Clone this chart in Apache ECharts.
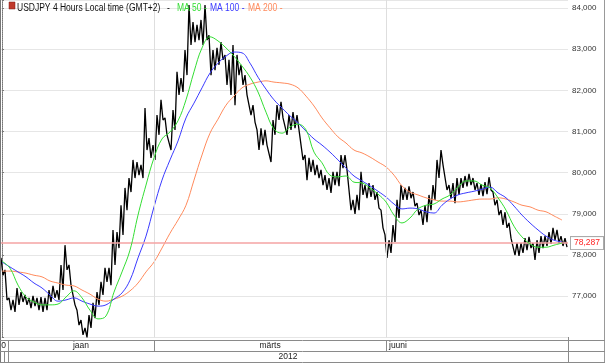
<!DOCTYPE html>
<html><head><meta charset="utf-8">
<script src="https://cdn.jsdelivr.net/npm/echarts@6/dist/echarts.min.js"></script>
<style>html,body{margin:0;padding:0;background:#fff}#c{width:605px;height:363px}</style>
</head><body><div id="c"></div>
<script>
// 4-hour bars, sampled (high / low)
const high = [77.93,77.64,76.96,76.91,77.20,77.10,77.03,76.96,77.01,76.96,
  76.98,76.96,77.15,77.25,77.15,77.76,78.24,77.76,77.27,76.66,
  76.42,76.23,76.54,76.84,77.10,77.35,77.69,77.69,78.61,78.56,
  79.21,79.63,79.87,80.31,80.26,80.19,81.57,80.84,80.67,81.40,
  81.77,81.33,80.92,81.52,82.45,82.30,82.98,84.07,83.66,83.59,
  83.71,84.07,83.34,82.98,83.03,83.17,82.86,82.74,83.10,82.86,
  82.62,82.37,81.89,81.64,81.04,81.08,81.04,80.67,81.28,81.64,
  81.72,81.33,81.40,81.47,81.40,81.04,80.43,80.36,80.31,80.19,
  80.07,79.94,79.87,80.02,80.02,80.43,80.43,79.58,79.34,79.46,
  80.02,79.70,79.75,79.70,79.53,79.09,78.49,78.36,78.73,79.34,
  79.70,79.63,79.67,79.53,79.26,79.09,79.21,79.46,79.70,80.31,
  80.55,80.19,79.70,79.75,79.87,79.87,79.92,79.97,79.87,79.75,
  79.72,79.77,79.89,79.53,79.34,79.09,79.04,78.78,78.41,78.29,
  78.29,78.41,78.44,78.29,78.36,78.46,78.46,78.56,78.66,78.61,
  78.46,78.41];
const low = [77.51,76.91,76.66,76.62,76.79,76.86,76.79,76.71,76.76,76.66,
  76.62,76.66,76.86,76.96,76.91,77.15,77.64,77.27,76.79,76.30,
  76.06,76.00,76.23,76.47,76.79,77.03,77.35,77.27,77.76,78.17,
  78.49,79.09,79.53,79.87,79.94,79.87,80.55,80.36,80.31,80.92,
  81.28,80.92,80.55,81.04,81.89,81.96,82.37,83.10,83.17,83.22,
  83.10,83.22,82.37,82.49,82.62,82.74,82.13,81.89,81.64,82.37,
  82.13,81.89,81.40,81.23,80.55,80.67,80.67,80.26,80.92,81.28,
  81.33,80.92,81.04,81.08,81.04,80.31,79.82,80.02,79.94,79.87,
  79.70,79.58,79.51,79.70,79.67,80.11,80.07,79.09,79.00,79.09,
  79.46,79.38,79.41,79.34,79.14,78.66,77.93,78.05,78.32,78.90,
  79.34,79.34,79.38,79.19,78.97,78.73,78.80,79.09,79.34,79.87,
  80.19,79.58,79.38,79.26,79.46,79.63,79.67,79.70,79.58,79.46,
  79.43,79.48,79.58,79.21,78.97,78.73,78.66,78.41,78.00,77.98,
  78.05,78.12,78.17,77.88,78.05,78.17,78.22,78.27,78.36,78.29,
  78.22,78.19];
// moving averages, one value every 2nd bar
const ma50 = [77.85,77.68,77.27,76.98,76.86,76.79,76.79,76.81,76.98,77.13,
  76.96,76.66,76.45,76.52,77.10,77.59,78.12,78.97,79.70,80.36,
  80.82,80.99,81.26,81.77,82.45,83.03,83.30,83.20,83.03,82.83,
  82.59,82.32,81.96,81.47,81.06,80.96,81.11,81.18,81.04,80.50,
  80.24,79.94,79.90,79.92,79.77,79.75,79.63,79.48,79.29,78.97,
  78.78,78.90,79.12,79.21,79.24,79.36,79.46,79.65,79.80,79.80,
  79.70,79.63,79.39,79.09,78.70,78.44,78.27,78.19,78.19,78.24,
  78.29];
const ma100 = [77.83,77.71,77.59,77.47,77.32,77.20,77.03,76.88,76.91,76.96,
  76.88,76.81,76.76,76.79,76.93,77.08,77.39,77.93,78.46,79.17,
  79.82,80.31,80.77,81.33,81.69,82.06,82.42,82.66,82.83,82.93,
  82.91,82.66,82.32,82.03,81.77,81.57,81.38,81.21,81.01,80.82,
  80.67,80.50,80.31,80.11,79.92,79.80,79.68,79.55,79.41,79.24,
  79.12,79.14,79.12,79.05,79.02,79.21,79.36,79.46,79.51,79.55,
  79.60,79.65,79.51,79.39,79.19,78.97,78.78,78.61,78.46,78.36,
  78.32];
const ma200 = [77.61,77.61,77.59,77.56,77.51,77.47,77.37,77.32,77.27,77.25,
  77.15,77.05,76.93,76.88,76.93,77.00,77.13,77.32,77.59,77.83,
  78.17,78.53,78.85,79.21,79.82,80.43,80.96,81.30,81.64,81.86,
  82.06,82.15,82.20,82.23,82.20,82.18,82.15,82.06,81.86,81.62,
  81.33,81.09,80.87,80.72,80.55,80.48,80.38,80.26,80.14,79.94,
  79.68,79.53,79.46,79.39,79.34,79.31,79.31,79.29,79.31,79.34,
  79.36,79.36,79.39,79.36,79.29,79.21,79.17,79.09,79.05,78.95,
  78.85];
const lastPrice = 78.287;
const monthLabels = ['0', 'jaan', 'märts', 'juuni'];
const monthStartBar = [38, 96];
const yearLabel = '2012';
const titleText = 'USDJPY 4 Hours Local time (GMT+2)';
const maNames = ['MA 50', 'MA 100', 'MA 200'];
const yTicks = [77, 78, 79, 80, 81, 82, 83, 84];

const C50 = '#33dd33', C100 = '#3a3aff', C200 = '#ff8a5c';
const fmt = v => v.toFixed(3).replace('.', ',');
const chart = echarts.init(document.getElementById('c'), null, {renderer: 'canvas'});
const FONT = 'Liberation Sans';
const maData = arr => arr.map((v, k) => [2 * k, v]);
// each bar is traced from its high to its low
const priceTrace = [];
high.forEach((h, i) => { priceTrace.push([i - 0.25, h]); priceTrace.push([i + 0.25, low[i]]); });
const hl = (x1, y1, x2, y2, c) => ({type: 'line', silent: true, z: 50,
  shape: {x1, y1, x2, y2}, style: {stroke: c || '#8a8a8a', lineWidth: 1}});
const txt = (x, y, t, opt, sx) => Object.assign({type: 'text', z: 51, x, y, scaleX: sx || 1,
  style: Object.assign({text: t, font: '8.5px ' + FONT, fill: '#222', textVerticalAlign: 'middle'}, opt || {})});

chart.setOption({
  animation: false,
  grid: {left: 0, right: 37, top: 0, bottom: 25.6},
  xAxis: {type: 'value', min: -0.5, max: high.length - 0.5,
    axisLine: {show: false}, axisTick: {show: false}, axisLabel: {show: false}, splitLine: {show: false}},
  yAxis: {type: 'value', position: 'right', min: 76, max: 84.194, interval: 1,
    axisLine: {show: true, lineStyle: {color: '#777', type: 'dotted'}},
    axisTick: {show: true, length: 2, lineStyle: {color: '#777'}},
    axisLabel: {margin: 4, color: '#333', fontSize: 8, fontFamily: FONT,
      formatter: v => yTicks.includes(Math.round(v * 1000) / 1000) ? fmt(v) : ''},
    splitLine: {show: true, lineStyle: {color: '#e6e6e6'}}},
  series: [
    {type: 'line', data: [], silent: true, z: 1,
      markLine: {silent: true, symbol: 'none', animation: false, data: [
        ...monthStartBar.map(b => ({xAxis: b, lineStyle: {color: '#dedede', width: 1, type: 'solid'}, label: {show: false}})),
        {yAxis: lastPrice, lineStyle: {color: '#f5a3a3', width: 1.5, type: 'solid'},
          label: {show: true, position: 'end', distance: 3, formatter: fmt(lastPrice), color: '#ff2222',
            fontSize: 8.5, fontFamily: FONT, backgroundColor: '#fff', borderColor: '#aaa', borderWidth: 1, padding: [2, 3, 1, 3]}}
      ]}},
    {type: 'line', z: 2, data: priceTrace, showSymbol: false, silent: true,
      lineStyle: {color: '#000', width: 1.3}},
    {type: 'line', z: 3, data: maData(ma200), smooth: 0.4, showSymbol: false, lineStyle: {color: C200, width: 1}},
    {type: 'line', z: 4, data: maData(ma100), smooth: 0.4, showSymbol: false, lineStyle: {color: C100, width: 1}},
    {type: 'line', z: 5, data: maData(ma50), smooth: 0.4, showSymbol: false, lineStyle: {color: C50, width: 1}}
  ],
  graphic: [
    // header
    {type: 'rect', z: 51, shape: {x: 9, y: 2, width: 6, height: 7}, style: {fill: '#c0392b', stroke: '#7a1f1a', lineWidth: 0.5}},
    txt(17, 8, titleText, {font: '10px ' + FONT, fill: '#111'}, 0.85),
    txt(167, 8, '-', {font: '10px ' + FONT, fill: '#111'}, 0.85),
    txt(177, 8, maNames[0] + ' -', {font: '10px ' + FONT, fill: C50}, 0.85),
    txt(210, 8, maNames[1] + ' -', {font: '10px ' + FONT, fill: C100}, 0.85),
    txt(248, 8, maNames[2] + ' -', {font: '10px ' + FONT, fill: C200}, 0.85),
    // frame
    hl(0.5, 0, 0.5, 363, '#777'),
    hl(604.5, 0, 604.5, 363, '#999'),
    hl(0, 340.5, 605, 340.5),
    hl(0, 351.5, 605, 351.5),
    hl(0, 362.5, 605, 362.5),
    hl(568.5, 337, 568.5, 363),
    hl(8.5, 340, 8.5, 351),
    hl(154.5, 340, 154.5, 351),
    hl(386.5, 340, 386.5, 351),
    hl(4.5, 351, 4.5, 363),
    hl(8.5, 351, 8.5, 363),
    txt(6, 346, monthLabels[0], {textAlign: 'right'}),
    txt(81, 346, monthLabels[1], {textAlign: 'center'}),
    txt(270, 346, monthLabels[2], {textAlign: 'center'}),
    txt(389, 346, monthLabels[3], {textAlign: 'left'}),
    txt(288, 357, yearLabel, {textAlign: 'center'})
  ]
});
</script></body></html>
